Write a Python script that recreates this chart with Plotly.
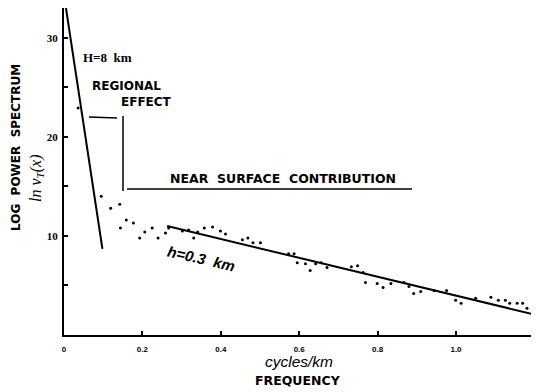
import plotly.graph_objects as go

# ---- data ----
freq = [0.036, 0.095, 0.119, 0.142, 0.144, 0.159, 0.177, 0.193, 0.206, 0.225,
        0.240, 0.259, 0.267, 0.302, 0.318, 0.331, 0.341, 0.358, 0.379, 0.399,
        0.412, 0.455, 0.469, 0.482, 0.501, 0.573, 0.587, 0.595, 0.616, 0.628,
        0.642, 0.656, 0.671, 0.733, 0.749, 0.763, 0.769, 0.799, 0.814, 0.834,
        0.867, 0.880, 0.892, 0.910, 0.944, 0.976, 0.999, 1.013, 1.050, 1.089,
        1.108, 1.126, 1.137, 1.156, 1.170, 1.181, 1.195]
log_power = [22.9, 14.0, 12.8, 13.2, 10.8, 11.6, 11.3, 9.8, 10.4, 10.8,
             9.8, 10.3, 10.8, 10.5, 10.6, 9.8, 10.4, 10.8, 10.9, 10.5,
             10.2, 9.6, 9.8, 9.3, 9.3, 8.2, 8.2, 7.3, 7.2, 6.5,
             7.2, 7.3, 6.8, 6.9, 7.0, 6.3, 5.3, 5.2, 4.8, 5.2,
             5.3, 4.9, 4.2, 4.4, 4.5, 4.5, 3.5, 3.2, 3.7, 3.8,
             3.5, 3.5, 3.2, 3.2, 3.2, 2.7, 2.2]

deep_fit_x = [0.005, 0.098]      # H = 8 km
deep_fit_y = [33.0, 8.7]
shallow_fit_x = [0.263, 1.207]   # h = 0.3 km
shallow_fit_y = [11.0, 2.0]

x_tickvals = [0, 0.2, 0.4, 0.6, 0.8, 1.0, 1.2]
x_ticktext = ["0", "0.2", "0.4", "0.6", "0.8", "1.0", "1.2"]
y_tickvals = [10, 20, 30]
y_ticktext = ["10", "20", "30"]
y_minor_ticks = [5, 15, 25]

# ---- layout geometry (page pixels; the page body adds an 8px offset) ----
OFF = 8
W, H = 539 - OFF, 392 - OFF
L, R, T, B = 56, 2, 0, 57
PW, PH = W - L - R, H - T - B


def px(x_page):
    return (x_page - OFF - L) / PW


def py(y_page):
    return (H - B - (y_page - OFF)) / PH


fig = go.Figure()
fig.add_trace(go.Scatter(x=freq, y=log_power, mode="markers",
                         marker=dict(color="black", size=3),
                         cliponaxis=False, showlegend=False))
fig.add_trace(go.Scatter(x=deep_fit_x, y=deep_fit_y, mode="lines",
                         line=dict(color="black", width=2),
                         cliponaxis=False, showlegend=False))
fig.add_trace(go.Scatter(x=shallow_fit_x, y=shallow_fit_y, mode="lines",
                         line=dict(color="black", width=2),
                         cliponaxis=False, showlegend=False))

bold = dict(family="DejaVu Sans", color="black", weight="bold")

annotations = [
    dict(x=px(107), y=py(57), text="H=8  km",
         font=dict(family="Liberation Serif", size=13, color="black", weight="bold")),
    dict(x=px(126), y=py(86), text="REGIONAL", font=dict(size=12, **bold)),
    dict(x=px(146), y=py(101.5), text="EFFECT", font=dict(size=12, **bold)),
    dict(x=px(283), y=py(178), text="NEAR  SURFACE  CONTRIBUTION", font=dict(size=12.5, **bold)),
    dict(x=px(201), y=py(258), text="<i>h=0.3  km</i>", textangle=13,
         font=dict(family="Liberation Sans", size=15, color="black", weight="bold")),
    dict(x=px(299), y=py(361), text="<i>cycles/km</i>",
         font=dict(family="Liberation Sans", size=15.5, color="black")),
    dict(x=px(298), y=py(380), text="FREQUENCY", font=dict(size=12.5, **bold)),
    dict(x=px(16), y=py(148), text="LOG  POWER  SPECTRUM", textangle=-90,
         font=dict(size=12, **bold)),
    dict(x=px(36), y=py(178), text="<i>ln ν<sub>T</sub>(x)</i>", textangle=-90,
         font=dict(family="Liberation Serif", size=16, color="black")),
]
for a in annotations:
    a.update(xref="paper", yref="paper", showarrow=False,
             xanchor="center", yanchor="middle")

shapes = [
    dict(type="line", x0=px(89), y0=py(117), x1=px(117), y1=py(118)),
    dict(type="line", x0=px(123), y0=py(116), x1=px(123), y1=py(191)),
    dict(type="line", x0=px(127), y0=py(189), x1=px(412), y1=py(189)),
]
for s in shapes:
    s.update(xref="paper", yref="paper", line=dict(color="black", width=1.5))

fig.update_layout(
    width=W, height=H,
    margin=dict(l=L, r=R, t=T, b=B),
    paper_bgcolor="white", plot_bgcolor="white",
    annotations=annotations, shapes=shapes,
    xaxis=dict(range=[0, PW / 392], showgrid=False, zeroline=False,
               showline=True, linecolor="black", linewidth=2,
               ticks="inside", ticklen=4, tickwidth=1.5, tickcolor="black",
               tickvals=x_tickvals, ticktext=x_ticktext,
               tickfont=dict(family="Liberation Sans", size=8, color="black", weight="bold"),
               ticklabelstandoff=5),
    yaxis=dict(range=[0, 33], showgrid=False, zeroline=False,
               showline=True, linecolor="black", linewidth=2,
               ticks="inside", ticklen=4, tickwidth=1.5, tickcolor="black",
               tickvals=y_tickvals, ticktext=y_ticktext,
               minor=dict(tickvals=y_minor_ticks, ticks="inside", ticklen=4,
                          tickwidth=1.5, tickcolor="black"),
               tickfont=dict(family="Liberation Serif", size=11, color="black", weight="bold"),
               ticklabelstandoff=2),
)

fig.write_html("out.html")
